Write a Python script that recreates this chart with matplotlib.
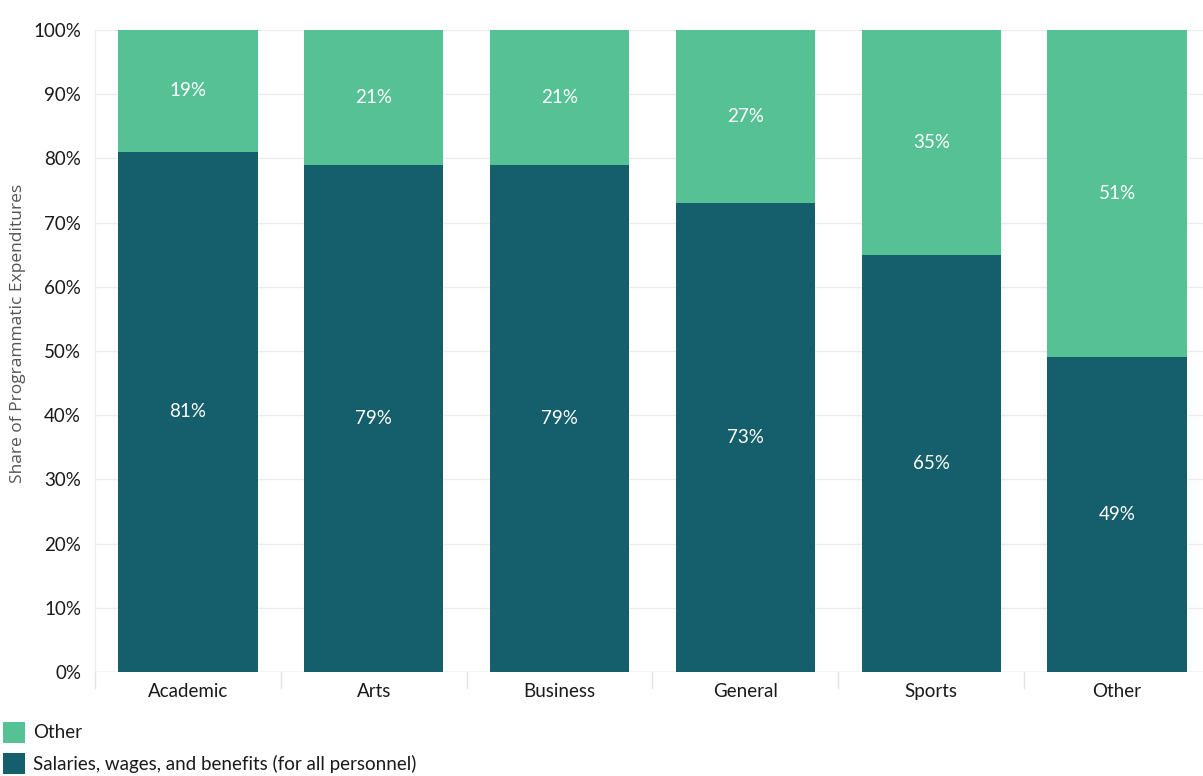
import matplotlib.pyplot as plt
from matplotlib.patches import Rectangle

categories = ["Academic", "Arts", "Business", "General", "Sports", "Other"]
salaries = [81, 79, 79, 73, 65, 49]
other = [19, 21, 21, 27, 35, 51]
legend_labels = ["Other", "Salaries, wages, and benefits (for all personnel)"]

dark = "#155e6b"
green = "#57c196"
grid = "#ececec"

plt.rcParams['font.family'] = ['Lato', 'DejaVu Sans']

W, H = 1203, 776
fig = plt.figure(figsize=(W / 100, H / 100), dpi=100)
# axes run a little past the right edge so the last slot keeps its width
ax = fig.add_axes([95 / W, (H - 672) / H, 1115 / W, 642 / H])

x = list(range(len(categories)))
ax.bar(x, salaries, width=0.75, color=dark, zorder=2)
ax.bar(x, other, width=0.75, bottom=salaries, color=green, zorder=2)

for i in x:
    ax.text(i, salaries[i] / 2, f"{salaries[i]}%", ha="center", va="center",
            color="white", fontsize=13.5)
    ax.text(i, salaries[i] + other[i] / 2, f"{other[i]}%", ha="center",
            va="center", color="white", fontsize=13.5)

ax.set_xlim(-0.5, len(categories) - 0.5)
ax.set_ylim(0, 100)
ax.set_yticks(range(0, 101, 10))
ax.set_yticklabels([f"{v}%" for v in range(0, 101, 10)])
ax.set_xticks(x)
ax.set_xticklabels(categories)
ax.tick_params(axis="both", length=0, labelsize=13.5, colors="#1a1a1a")
ax.tick_params(axis="y", pad=10)
ax.tick_params(axis="x", pad=8)

ax.yaxis.grid(True, color=grid, linewidth=1, zorder=0)
for s in ["top", "right", "bottom"]:
    ax.spines[s].set_visible(False)
ax.spines["left"].set_color(grid)

# baseline and category separators
ax.axhline(0, color="#e4e4e4", linewidth=1, zorder=1)
for b in range(len(categories) + 1):
    ax.plot([b - 0.5, b - 0.5], [0, -2.5], color="#e4e4e4", linewidth=1,
            clip_on=False)

ax.set_ylabel("Share of Programmatic Expenditures", fontsize=12.5,
              color="#555555", family=['Open Sans', 'DejaVu Sans'])
ax.yaxis.set_label_coords(-69 / 1115, (672 - 333) / 642)

# legend swatches and labels
for k, (lab, col) in enumerate(zip(legend_labels, [green, dark])):
    y0 = H - 743 - 31 * k
    fig.patches.append(Rectangle((3 / W, y0 / H), 22 / W, 21 / H,
                                 transform=fig.transFigure, facecolor=col,
                                 edgecolor="none"))
    fig.text(33 / W, (y0 + 10.5) / H, lab, ha="left", va="center",
             fontsize=13.5, color="#1a1a1a")

fig.savefig("out.png", dpi=100)
